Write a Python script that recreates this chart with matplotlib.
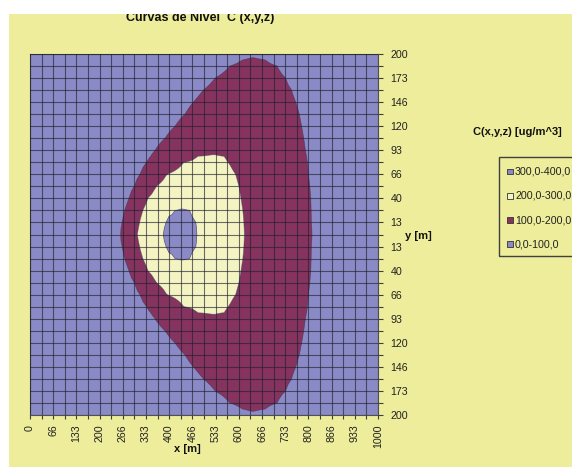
import numpy as np
import matplotlib
matplotlib.use("Agg")
import matplotlib.pyplot as plt
from matplotlib import font_manager as fm
from matplotlib.patches import Rectangle

x_labels = ["0", "66", "133", "200", "266", "333", "400", "466", "533", "600",
            "666", "733", "800", "866", "933", "1000"]
y_labels = ["200", "173", "146", "120", "93", "66", "40", "13",
            "13", "40", "66", "93", "120", "146", "173", "200"]

# |y| of each data row [m] (the map is symmetric about the plume axis)
y_rows = [0.0, 6.67, 13.33, 20.0, 26.67, 40.0, 53.33, 66.67, 80.0, 86.67, 93.33,
          106.67, 120.0, 133.33, 146.67, 160.0, 173.33, 186.67, 193.33, 200.0]
nan = np.nan
# x [m] where each row crosses the 100 / 200 / 300 levels (left and right branch)
x100_L = [261.5, 262.5, 265.3, 268.5, 273.0, 284.5, 299.8, 316.1, 335.3, 347.0,
          359.2, 388.0, 416.7, 445.4, 469.4, 498.1, 531.6, 574.7, 610.0, nan]
x100_R = [809.4, 809.0, 808.4, 808.0, 807.5, 805.6, 802.7, 799.8, 796.0, 793.6,
          791.2, 786.4, 780.7, 774.0, 764.4, 752.0, 734.7, 710.7, 677.0, nan]
x200_L = [308.4, 310.5, 314.2, 318.5, 323.8, 337.2, 362.0, 393.0, 442.0, 480.0] + [nan] * 10
x200_R = [615.9, 615.0, 614.0, 612.7, 611.1, 606.3, 600.6, 591.0, 571.0, 558.0] + [nan] * 10
x300_L = [383.0, 384.5, 389.9, 398.0, 416.7] + [nan] * 15
x300_R = [480.0, 479.0, 477.0, 466.0, 459.8] + [nan] * 15
# estimated maximum of each row and where it sits
peak_x = [431, 432, 433, 435, 438, 435, 450, 480, 505, 515, 530, 540, 560, 580, 600,
          620, 635, 640, 640, 640]
peak_v = [330, 328, 325, 316, 302, 290, 265, 240, 215, 203, 196, 165, 148, 135, 125,
          117, 112, 107, 103, 96]
# x where the concentration is ~0 upwind, and value at x = 1000 m
x_zero = [178, 179, 180, 184, 188, 195, 205, 206, 205, 190, 179, 158, 117, 60, 0,
          0, 0, 0, 0, 0]
c_end = [55, 54.5, 54, 53.5, 53, 52, 51, 50, 49, 48.5, 48, 47, 46, 45, 44,
         43, 42, 40, 39, 38]

levels = [0, 100, 200, 300, 400]
legend_labels = ["300,0-400,0", "200,0-300,0", "100,0-200,0", "0,0-100,0"]
band_colors = ["#8A8AC6", "#86345F", "#F4F4C3", "#8A8AC6"]   # 0-100,100-200,200-300,300-400

# ---------------- build value table on the chart grid ----------------
x_grid = np.linspace(0, 1000, 121)
half_rows = []
for k in range(len(y_rows)):
    xs, vs = [0.0], [0.0]
    if x_zero[k] > 0:
        xs.append(x_zero[k]); vs.append(0.0)
    for xc, lev in ((x100_L[k], 100), (x200_L[k], 200), (x300_L[k], 300)):
        if not np.isnan(xc):
            xs.append(xc); vs.append(lev)
    xs.append(peak_x[k]); vs.append(peak_v[k])
    for xc, lev in ((x300_R[k], 300), (x200_R[k], 200), (x100_R[k], 100)):
        if not np.isnan(xc):
            xs.append(xc); vs.append(lev)
    xs.append(1000.0); vs.append(c_end[k])
    half_rows.append(np.interp(x_grid, xs, vs))
half = np.array(half_rows)
Z = np.vstack([half[:0:-1], half])
ya = np.array(y_rows)
y_grid = np.concatenate([-ya[:0:-1], ya])

# ---------------- fonts ----------------
names = {f.name for f in fm.fontManager.ttflist}
FONT = "Liberation Sans Narrow" if "Liberation Sans Narrow" in names else "Liberation Sans"
plt.rcParams["font.family"] = [FONT, "DejaVu Sans"]

W, H = 572, 467
fig = plt.figure(figsize=(W / 100, H / 100), dpi=100, facecolor="white")

def fx(px):
    return px / W

def fy(py):
    return 1 - py / H

fig.patches.append(Rectangle((fx(9), 0), 1 - fx(9), fy(14), transform=fig.transFigure,
                             facecolor="#EDED9B", edgecolor="none", zorder=-5))

ax = fig.add_axes([fx(30), fy(415), fx(378) - fx(30), fy(54) - fy(415)])
ax.set_zorder(1)
ax.set_facecolor("#8A8AC6")

ax.contourf(x_grid, y_grid, Z, levels=levels, colors=band_colors, antialiased=True, zorder=1)
ax.contour(x_grid, y_grid, Z, levels=levels[1:4], colors="#3A3050", linewidths=0.5,
           alpha=0.6, zorder=2)

ax.set_xlim(0, 1000)
ax.set_ylim(-200, 200)

major_x = np.linspace(0, 1000, 16)
minor_x = major_x[:-1] + 1000 / 30
major_y = np.linspace(200, -200, 16)
minor_y = major_y[:-1] - 400 / 30
ax.set_xticks(major_x)
ax.set_xticklabels(x_labels, rotation=90)
ax.set_xticks(minor_x, minor=True)
ax.set_yticks(major_y)
ax.set_yticklabels(y_labels)
ax.set_yticks(minor_y, minor=True)
ax.yaxis.tick_right()

ax.grid(True, which="both", color="#202030", linewidth=0.8, alpha=0.65, zorder=3)
ax.set_axisbelow(False)

ax.tick_params(axis="x", which="both", direction="out", length=3, width=0.8,
               color="#404040", labelsize=7.7, labelcolor="#222222", pad=4)
ax.tick_params(axis="y", which="both", direction="out", length=3.6, width=0.8,
               color="#404040", labelsize=7.7, labelcolor="#222222", pad=5.5)
for s in ax.spines.values():
    s.set_color("#505050")
    s.set_linewidth(0.8)

# texts
fig.text(fx(200.5), fy(20.5), "Curvas de Nivel  C (x,y,z)", ha="center", va="baseline",
         fontsize=9, fontweight="bold", color="#111111", zorder=1)
fig.patches.append(Rectangle((0, fy(14)), 1, 1 - fy(14), transform=fig.transFigure,
                             facecolor="white", edgecolor="none", zorder=10))
fig.text(fx(187), fy(449), "x [m]", ha="center", va="center", fontsize=8,
         fontweight="bold", color="#111111")
fig.text(fx(418), fy(236), "y [m]", ha="center", va="center", fontsize=8,
         fontweight="bold", color="#111111")
fig.text(fx(517.5), fy(132), "C(x,y,z) [ug/m^3]", ha="center", va="center", fontsize=8,
         fontweight="bold", color="#111111")

# legend box
fig.patches.append(Rectangle((fx(499), fy(256)), fx(75), fy(157) - fy(256),
                             transform=fig.transFigure, facecolor="none",
                             edgecolor="#404040", linewidth=1.0, zorder=2))
legend_colors = [band_colors[3], band_colors[2], band_colors[1], band_colors[0]]
for k, (lab, col) in enumerate(zip(legend_labels, legend_colors)):
    yc = 171.7 + k * 24.2
    fig.patches.append(Rectangle((fx(507.5), fy(yc + 2.8)), fx(5.6), fy(yc - 2.8) - fy(yc + 2.8),
                                 transform=fig.transFigure, facecolor=col,
                                 edgecolor="#333333", linewidth=0.6, zorder=3))
    fig.text(fx(515), fy(yc), lab, ha="left", va="center", fontsize=7.7, color="#222222")

fig.savefig("out.png", dpi=100, facecolor="white")
